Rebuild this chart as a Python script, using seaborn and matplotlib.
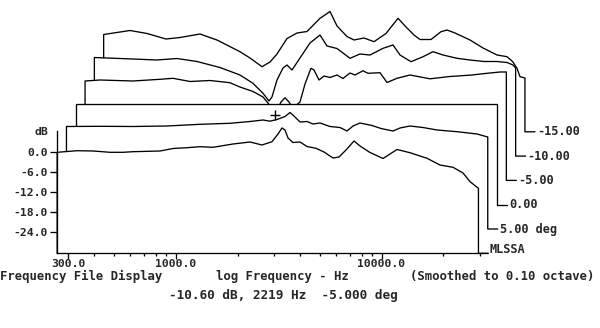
import numpy as np
import matplotlib
matplotlib.use("Agg")
import matplotlib.pyplot as plt
import seaborn as sns

# ---------------- data ----------------
trace_labels = ["MLSSA", "5.00 deg", "0.00", "-5.00", "-10.00", "-15.00"]

freq_front = [265, 331, 396, 479, 554, 619, 838, 969, 1133, 1311, 1516, 1897, 2295, 2625,
              2936, 3140, 3283, 3395, 3511, 3712, 4016, 4343, 4804, 5254, 5811, 6214, 6721,
              7350, 7863, 8794, 10170, 11896, 13757, 16643, 19251, 22267, 24904, 26933, 29600]
db_front = [0.0, 0.48, 0.39, 0.0, 0.0, 0.18, 0.39, 1.14, 1.38, 1.68, 1.5, 2.49, 3.09, 2.19,
            3.18, 5.49, 7.3, 6.69, 4.29, 2.94, 3.09, 1.74, 1.2, 0.09, -1.71, -1.41, 0.69,
            3.39, 1.89, -0.06, -1.86, 0.84, -0.12, -1.8, -3.81, -4.5, -6.21, -8.82, -10.8]

freq_p5 = [265, 386, 558, 817, 1181, 1653, 2068, 2391, 2586, 2797, 3060, 3236, 3383, 3619,
           3914, 4185, 4527, 5062, 5662, 6125, 6550, 7085, 8104, 8963, 10250, 11085, 12396,
           14337, 16775, 20980, 26253, 29600]
db_p5 = [0.45, 0.51, 0.45, 0.6, 1.11, 1.41, 1.95, 2.4, 2.04, 2.55, 3.45, 4.65, 3.6, 1.8,
         1.95, 1.2, 1.5, 0.45, 0.15, -0.9, 0.6, 1.5, 0.75, -0.15, -0.9, 0.0, 0.6,
         0.15, -0.6, -1.11, -1.8, -2.7]

freq_0 = [265, 29600]
db_0 = [0.0, 0.0]

freq_m5 = [265, 313, 453, 613, 709, 858, 1073, 1342, 1501, 1737, 1942, 2054, 2219, 2376,
           2485, 2598, 2717, 2939, 3108, 3323, 3437, 3635, 3844, 4111, 4446, 4755, 5142,
           5438, 5949, 6290, 7197, 7784, 8705, 10067, 12593, 15748, 20154, 23840, 27570, 29600]
db_m5 = [-0.48, -0.18, -0.48, 0.03, 0.33, -0.63, -0.33, -0.99, -2.28, -3.63, -5.28, -7.08,
         -10.6, -6.78, -5.49, -6.78, -8.58, -6.78, -1.38, 3.33, 2.82, -0.18, 1.02, 0.57,
         1.32, 0.27, 1.92, 1.32, 2.58, 1.83, 2.01, -0.93, 0.33, 1.32, 0.18, 0.87, 1.32,
         1.83, 2.22, 2.22]

freq_m10 = [265, 408, 534, 668, 836, 1081, 1353, 1564, 1750, 1872, 1935, 2047, 2189, 2289,
            2422, 2648, 2962, 3313, 3583, 4007, 4634, 5183, 5799, 6707, 7500, 8113, 9175,
            10494, 11736, 13127, 15357, 17763, 20772, 24026, 26876, 28735, 29600]
db_m10 = [-0.72, -1.17, -1.47, -1.02, -1.92, -3.72, -5.97, -8.46, -11.46, -13.77, -12.57,
          -7.47, -3.87, -2.97, -4.47, -0.87, 3.63, 6.03, 2.73, 1.98, -0.96, 0.33, 0.03,
          2.04, 3.03, 0.03, -1.98, -0.48, 1.02, 0.03, -0.96, -1.47, -1.92, -1.92, -2.22,
          -2.97, -3.87]

freq_m15 = [265, 356, 431, 532, 623, 779, 942, 1219, 1363, 1560, 1706, 1845, 2063, 2308,
            2581, 2985, 3339, 3611, 4038, 4368, 4885, 5463, 6248, 7149, 7819, 8551, 9144,
            10342, 11566, 12370, 13530, 16003, 18508, 21656, 24220, 25900, 27080, 28010, 29600]
db_m15 = [-1.11, 0.09, -0.81, -2.46, -2.01, -0.96, -2.76, -6.27, -8.16, -10.77, -9.36,
          -6.96, -2.31, -0.66, -0.21, 3.75, 5.79, 1.44, -1.71, -2.76, -2.16, -3.27, -0.81,
          3.75, 1.14, -1.26, -2.61, -2.61, -0.27, 0.24, -0.66, -2.76, -5.16, -7.26, -7.77,
          -9.36, -11.25, -13.77, -14.16]

cursor_freq = 2219
cursor_db = -10.6
cursor_trace = 3

ytick_vals = [0, -6, -12, -18, -24]
ytick_labels = ["0.0", "-6.0", "-12.0", "-18.0", "-24.0"]
xtick_major = [300, 1000, 10000]
xtick_major_labels = ["300.0", "1000.0", "10000.0"]
xtick_minor = [400, 500, 600, 700, 800, 900, 2000, 3000, 4000, 5000, 6000, 7000, 8000,
               9000, 20000, 30000]

traces = [(freq_front, db_front), (freq_p5, db_p5), (freq_0, db_0),
          (freq_m5, db_m5), (freq_m10, db_m10), (freq_m15, db_m15)]

# ---------------- layout ----------------
sns.set_style("white")
FONT = ["DejaVu Sans Mono", "DejaVu Sans"]
plt.rcParams["font.family"] = FONT
plt.rcParams["font.weight"] = "bold"

W, H = 600, 328
PX_DEC = 205.7          # pixels per decade
PX_DB = 20 / 6          # pixels per dB
X1K = 175.8             # pixel of 1 kHz
Y0 = 152.3              # pixel of 0 dB (front)

def fx(px):
    return 10 ** (3 + (px - X1K) / PX_DEC)

SX = 10 ** (9.3 / PX_DEC)   # per-trace frequency shift
SY = 24.3 / PX_DB           # per-trace dB shift
BASE = -30.3
TICKF = 10 ** (10 / PX_DEC)
LABF = 10 ** (12 / PX_DEC)

fig = plt.figure(figsize=(W / 100, H / 100), dpi=100)
ax = fig.add_axes([0, 0, 1, 1])
ax.set_xscale("log")
ax.set_xlim(fx(0), fx(W))
ax.set_ylim((Y0 - H) / PX_DB, Y0 / PX_DB)

lw = 0.95
for k in range(len(traces) - 1, -1, -1):
    f, v = traces[k]
    fs = np.asarray(f, float) * SX ** k
    vs = np.asarray(v, float) + SY * k
    base = BASE + SY * k
    z = 10 + 2 * (len(traces) - k)
    ax.fill_between(fs, vs, base, color="white", lw=0, zorder=z)
    xs = np.concatenate([[fs[0]], fs, [fs[-1], fs[-1] * TICKF]])
    ys = np.concatenate([[base], vs, [base, base]])
    sns.lineplot(x=xs, y=ys, sort=False, estimator=None, color="black", lw=lw,
                 ax=ax, zorder=z + 1)
    ylab = base + (1.2 if k == 0 else 0.0)
    ax.text(fs[-1] * LABF * (0.99 if k == 0 else 1.0), ylab, trace_labels[k],
            va="center", ha="left", fontsize=8.6, fontweight="bold", zorder=50)

# cursor
ax.plot([cursor_freq * SX ** cursor_trace], [cursor_db + SY * cursor_trace],
        marker="+", ms=7, mew=1.0, color="black", ls="none", zorder=60)

# axes / spines
for s in ["top", "right"]:
    ax.spines[s].set_visible(False)
ax.spines["left"].set_position(("data", fx(57)))
ax.spines["left"].set_bounds(BASE, (Y0 - 131) / PX_DB)
ax.spines["bottom"].set_position(("data", BASE))
ax.spines["bottom"].set_bounds(fx(57), fx(487))
for s in ["left", "bottom"]:
    ax.spines[s].set_color("black")
    ax.spines[s].set_linewidth(lw)
    ax.spines[s].set_zorder(40)

ax.set_yticks(ytick_vals)
ax.set_yticklabels(ytick_labels)
ax.set_xticks(xtick_major)
ax.set_xticklabels(xtick_major_labels)
ax.set_xticks(xtick_minor, minor=True)
ax.xaxis.set_minor_formatter(matplotlib.ticker.NullFormatter())
ax.tick_params(axis="both", which="both", direction="out", color="black", width=lw,
               bottom=True, left=True, labelsize=8.2)
ax.tick_params(axis="y", length=5, pad=1.5)
ax.tick_params(axis="x", which="major", length=4, pad=0.0)
ax.tick_params(axis="x", which="minor", length=2.3)
for t in ax.get_xticklabels() + ax.get_yticklabels():
    t.set_fontweight("bold")
ax.grid(False)

def ftext(px, py, s, ha="left", size=8.8):
    fig.text(px / W, 1 - py / H, s, ha=ha, va="center", fontsize=size,
             fontweight="bold")

ftext(48, 132, "dB", ha="right", size=8.2)
ftext(0, 276.5, "Frequency File Display")
ftext(216, 276.5, "log Frequency - Hz")
ftext(410, 276.5, "(Smoothed to 0.10 octave)")
ftext(169, 296, "-10.60 dB, 2219 Hz  -5.000 deg", size=9.2)

fig.savefig("out.png", dpi=100, facecolor="white")
